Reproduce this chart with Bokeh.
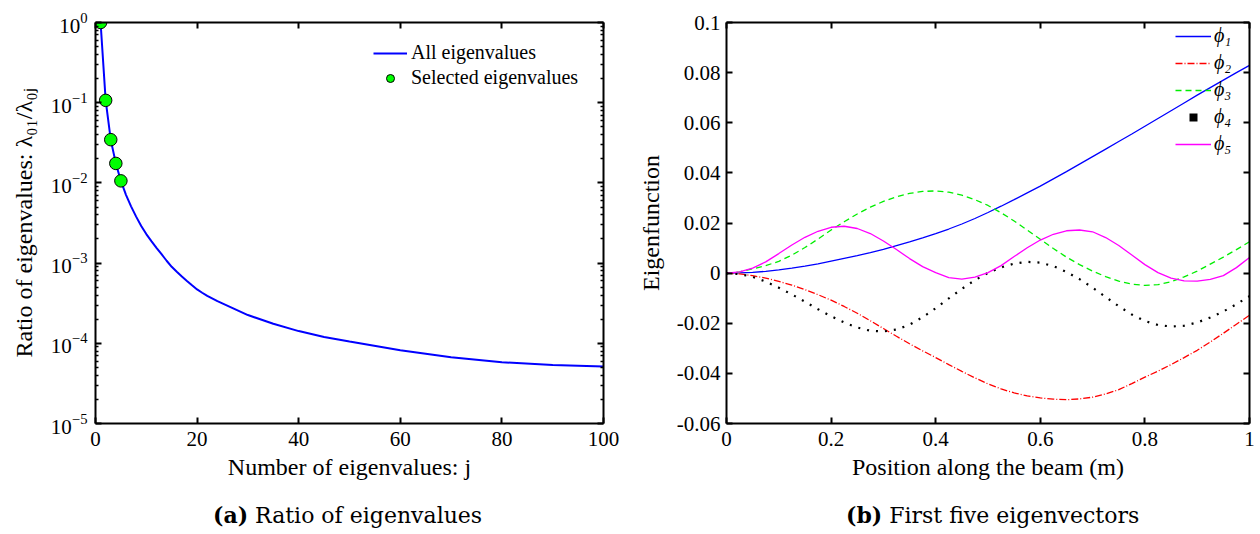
from bokeh.plotting import figure
from bokeh.models import (LinearAxis, LogAxis, FixedTicker, LogTickFormatter,
                          CustomJSTickFormatter, Legend, LegendItem, Range1d, Div)
from bokeh.layouts import row, column
from bokeh.embed import file_html
from bokeh.resources import INLINE

# ---------------- data: panel (a) ----------------
j_index = [1, 2, 3, 4, 5, 6, 7, 8, 9, 10, 11, 12, 13, 14, 15, 16, 17, 18, 19, 20,
           21, 22, 24, 27, 30, 35, 40, 45, 50, 60, 70, 80, 90, 100]
eig_ratio = [1.0, 0.107, 0.0346, 0.0175, 0.0106, 0.0071, 0.0051, 0.0038, 0.0029,
             0.0023, 0.00188, 0.00155, 0.00129, 0.00107, 0.00090, 0.00078, 0.00068,
             0.00060, 0.00053, 0.00047, 0.000427, 0.00039, 0.000335, 0.000275,
             0.000225, 0.000175, 0.000142, 0.000120, 0.000105, 0.000082, 0.000067,
             0.000058, 0.0000535, 0.0000515]
sel_j = [1, 2, 3, 4, 5]
sel_ratio = [1.0, 0.107, 0.0346, 0.0175, 0.0106]

# ---------------- data: panel (b) ----------------
pos = [0.0, 0.025, 0.05, 0.075, 0.1, 0.125, 0.15, 0.175, 0.2, 0.225, 0.25, 0.275,
       0.3, 0.325, 0.35, 0.375, 0.4, 0.425, 0.45, 0.475, 0.5, 0.525, 0.55, 0.575,
       0.6, 0.625, 0.65, 0.675, 0.7, 0.725, 0.75, 0.775, 0.8, 0.825, 0.85, 0.875,
       0.9, 0.925, 0.95, 0.975, 1.0]
phi1 = [0.0, 0.0001, 0.0003, 0.0007, 0.0013, 0.0020, 0.0028, 0.0037, 0.0048, 0.0059,
        0.0070, 0.0082, 0.0095, 0.0110, 0.0125, 0.0141, 0.0158, 0.0176, 0.0196, 0.0218,
        0.0242, 0.0267, 0.0293, 0.0320, 0.0347, 0.0376, 0.0405, 0.0435, 0.0465, 0.0495,
        0.0525, 0.0555, 0.0586, 0.0617, 0.0648, 0.0679, 0.0710, 0.0740, 0.0770, 0.0800,
        0.0829]
phi2 = [0.0, -0.0003, -0.0010, -0.0020, -0.0033, -0.0048, -0.0066, -0.0086, -0.0108,
        -0.0133, -0.0160, -0.0190, -0.0221, -0.0252, -0.0282, -0.0310, -0.0337, -0.0365,
        -0.0392, -0.0418, -0.0442, -0.0462, -0.0478, -0.0490, -0.0498, -0.0503, -0.0505,
        -0.0502, -0.0495, -0.0482, -0.0465, -0.0441, -0.0415, -0.0391, -0.0365, -0.0337,
        -0.0308, -0.0275, -0.0240, -0.0204, -0.0168]
phi3 = [0.0, 0.0005, 0.0017, 0.0030, 0.0047, 0.0072, 0.0102, 0.0136, 0.0172, 0.0205,
        0.0236, 0.0263, 0.0286, 0.0305, 0.0318, 0.0326, 0.0328, 0.0323, 0.0311, 0.0293,
        0.0270, 0.0241, 0.0208, 0.0172, 0.0135, 0.0098, 0.0064, 0.0034, 0.0008, -0.0014,
        -0.0032, -0.0044, -0.0049, -0.0046, -0.0034, -0.0015, 0.0008, 0.0036, 0.0064,
        0.0094, 0.0125]
phi4 = [0.0, -0.0004, -0.0015, -0.0034, -0.0058, -0.0085, -0.0114, -0.0144, -0.0172,
        -0.0197, -0.0217, -0.0230, -0.0233, -0.0225, -0.0206, -0.0176, -0.0140, -0.0101,
        -0.0063, -0.0028, 0.0001, 0.0023, 0.0038, 0.0045, 0.0042, 0.0028, 0.0005, -0.0024,
        -0.0058, -0.0095, -0.0132, -0.0165, -0.0191, -0.0207, -0.0213, -0.0210, -0.0197,
        -0.0177, -0.0153, -0.0124, -0.0092]
phi5 = [0.0, 0.0005, 0.0020, 0.0045, 0.0078, 0.0112, 0.0143, 0.0167, 0.0183, 0.0187,
        0.0178, 0.0158, 0.0128, 0.0094, 0.0058, 0.0026, 0.0002, -0.0018, -0.0024, -0.0016,
        0.0002, 0.0030, 0.0066, 0.0101, 0.0132, 0.0155, 0.0169, 0.0172, 0.0165, 0.0142,
        0.0110, 0.0072, 0.0034, 0.0002, -0.0020, -0.0031, -0.0032, -0.0025, -0.0010,
        0.0022, 0.0062]

x_ticks_a = [0, 20, 40, 60, 80, 100]
y_ticks_a = [1e-5, 1e-4, 1e-3, 1e-2, 1e-1, 1e0]
x_ticks_b = [0, 0.2, 0.4, 0.6, 0.8, 1.0]
y_ticks_b = [-0.06, -0.04, -0.02, 0, 0.02, 0.04, 0.06, 0.08, 0.1]

FONT = "Liberation Serif"
TICK_SIZE = "21px"
LABEL_SIZE = "24px"
FIG_H = 495

blank_fmt = CustomJSTickFormatter(code="return '';")


def style_axis(ax, show_labels=True):
    ax.axis_line_width = 2
    ax.axis_line_color = "black"
    ax.major_tick_in = 6
    ax.major_tick_out = 0
    ax.minor_tick_in = 3
    ax.minor_tick_out = 0
    ax.major_tick_line_width = 2
    ax.minor_tick_line_width = 1.5
    ax.major_label_text_font = FONT
    ax.major_label_text_color = "black"
    ax.major_label_text_font_size = TICK_SIZE
    ax.axis_label_text_font = FONT
    ax.axis_label_text_font_style = "normal"
    ax.axis_label_text_font_size = LABEL_SIZE
    ax.axis_label_text_color = "black"
    if not show_labels:
        ax.formatter = blank_fmt
        ax.major_label_standoff = 0


# ---------------- panel (a) ----------------
minor_log = [m * 10.0 ** e for e in range(-5, 0) for m in range(2, 10)]

p1 = figure(width=623, height=FIG_H, y_axis_type="log",
            x_range=Range1d(0, 100), y_range=Range1d(1e-5, 1),
            output_backend="svg", toolbar_location=None,
            min_border_left=95, min_border_right=20, min_border_top=22,
            min_border_bottom=FIG_H - 423)
p1.outline_line_color = None
p1.grid.visible = False

p1.xaxis.ticker = FixedTicker(ticks=x_ticks_a, minor_ticks=[])
p1.yaxis.ticker = FixedTicker(ticks=y_ticks_a, minor_ticks=minor_log)
p1.yaxis.formatter = LogTickFormatter()
p1.xaxis.axis_label = "Number of eigenvalues: j"
p1.yaxis.axis_label = "Ratio of eigenvalues: λ₀₁/λ₀ⱼ"
for ax in p1.xaxis + p1.yaxis:
    style_axis(ax)
p1.xaxis.major_label_standoff = 8
p1.xaxis.axis_label_standoff = 5
p1.yaxis.major_label_standoff = 8
p1.yaxis.axis_label_standoff = 11

top1 = LinearAxis(ticker=FixedTicker(ticks=x_ticks_a, minor_ticks=[]))
style_axis(top1, show_labels=False)
p1.add_layout(top1, "above")
right1 = LogAxis(ticker=FixedTicker(ticks=y_ticks_a, minor_ticks=minor_log))
style_axis(right1, show_labels=False)
p1.add_layout(right1, "right")

r_all = p1.line(j_index, eig_ratio, line_color="#0000ff", line_width=2)
r_sel = p1.scatter(sel_j, sel_ratio, size=12.5, fill_color="#00ff00",
                   line_color="black", line_width=1)

leg1 = Legend(items=[LegendItem(label="All eigenvalues", renderers=[r_all]),
                     LegendItem(label="Selected eigenvalues", renderers=[r_sel])],
              location=(278, 334), padding=6, spacing=2,
              glyph_width=34, glyph_height=20, label_standoff=4,
              label_text_font=FONT, label_text_font_size="20px",
              label_text_color="black",
              border_line_color=None, background_fill_alpha=0)
p1.add_layout(leg1)

# ---------------- panel (b) ----------------
fmt = CustomJSTickFormatter(code="""
let s = tick.toFixed(2);
if (s.indexOf('.') >= 0) { s = s.replace(/0+$/, ''); s = s.replace(/\\.$/, ''); }
if (s === '-0') { s = '0'; }
return s;
""")

p2 = figure(width=637, height=FIG_H,
            x_range=Range1d(0, 1), y_range=Range1d(-0.06, 0.1),
            output_backend="svg", toolbar_location=None,
            min_border_left=103, min_border_right=11, min_border_top=11,
            min_border_bottom=FIG_H - 424)
p2.outline_line_color = None
p2.grid.visible = False
p2.xaxis.ticker = FixedTicker(ticks=x_ticks_b, minor_ticks=[])
p2.yaxis.ticker = FixedTicker(ticks=y_ticks_b, minor_ticks=[])
p2.xaxis.axis_label = "Position along the beam (m)"
p2.yaxis.axis_label = "Eigenfunction"
for ax in p2.xaxis + p2.yaxis:
    style_axis(ax)
p2.xaxis.formatter = fmt
p2.yaxis.formatter = fmt
p2.xaxis.major_label_standoff = 8
p2.xaxis.axis_label_standoff = 5
p2.yaxis.major_label_standoff = 6
p2.yaxis.axis_label_standoff = 10

top2 = LinearAxis(ticker=FixedTicker(ticks=x_ticks_b, minor_ticks=[]))
style_axis(top2, show_labels=False)
p2.add_layout(top2, "above")
right2 = LinearAxis(ticker=FixedTicker(ticks=y_ticks_b, minor_ticks=[]))
style_axis(right2, show_labels=False)
p2.add_layout(right2, "right")

r1 = p2.line(pos, phi1, line_color="#0000ff", line_width=1.3)
r2 = p2.line(pos, phi2, line_color="#ff0000", line_width=1.3, line_dash="7 2 1 2")
r3 = p2.line(pos, phi3, line_color="#00ee00", line_width=1.3, line_dash="6 4")
r4 = p2.line(pos, phi4, line_color="black", line_width=2.2, line_dash="2 7")
r5 = p2.line(pos, phi5, line_color="#ff00ff", line_width=1.3)
r4_key = p2.scatter(x=pos[:1], y=phi4[:1], marker="square", size=2.5,
                    fill_color="black", line_color=None)

leg2 = Legend(items=[LegendItem(label="ϕ₁", renderers=[r1]),
                     LegendItem(label="ϕ₂", renderers=[r2]),
                     LegendItem(label="ϕ₃", renderers=[r3]),
                     LegendItem(label="ϕ₄", renderers=[r4_key]),
                     LegendItem(label="ϕ₅", renderers=[r5])],
              location=(449, 268), padding=4, spacing=4,
              glyph_width=36, glyph_height=20, label_standoff=3,
              label_text_font=FONT, label_text_font_size="20px",
              label_text_font_style="italic", label_text_color="black",
              border_line_color=None, background_fill_alpha=0)
p2.add_layout(leg2)

# ---------------- captions ----------------
cap_base = ("margin-top:0px; font-family:'DejaVu Serif'; "
            "font-size:22px; white-space:nowrap; color:black;")
cap_a = Div(text=f'<div style="margin-left:208px; {cap_base}"><b>(a)</b> Ratio of eigenvalues</div>',
            width=623, height=534 - FIG_H)
cap_b = Div(text=f'<div style="margin-left:208px; {cap_base}"><b>(b)</b> First five eigenvectors</div>',
            width=637, height=534 - FIG_H)

layout = column(row(p1, p2), row(cap_a, cap_b))
open("out.html", "w").write(file_html(layout, INLINE))
